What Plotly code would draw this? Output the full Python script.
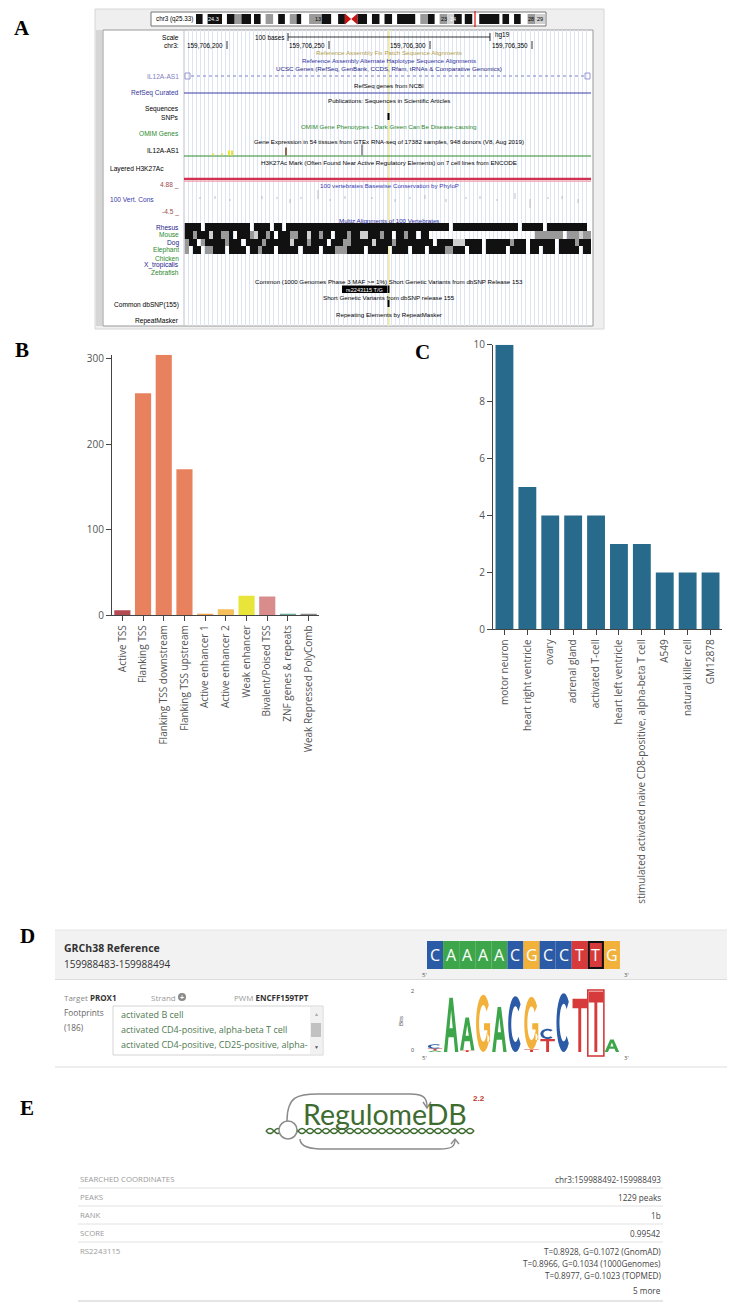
import math
import plotly.graph_objects as go

W, H = 734, 1311

SANS = "Liberation Sans, Arial, sans-serif"
OPEN = "Open Sans, sans-serif"
SERIF = "Liberation Serif, Times New Roman, serif"


def X(px):
    return px / W


def Y(py):
    return 1 - py / H


def P(px, py):
    return f"{X(px):.5f},{Y(py):.5f}"


# ---------------- panel B: chromatin state counts ----------------
chrom_states = ["Active TSS", "Flanking TSS", "Flanking TSS downstream",
                "Flanking TSS upstream", "Active enhancer 1", "Active enhancer 2",
                "Weak enhancer", "Bivalent/Poised TSS", "ZNF genes & repeats",
                "Weak Repressed PolyComb"]
state_counts = [6, 260, 305, 171, 1, 7, 23, 22, 1, 1]
state_colors = ["#b44b53", "#e8825e", "#e8825e", "#e8825e", "#f0a050",
                "#f5bf5c", "#e8e43a", "#d98c8c", "#6aa89a", "#8a8a8a"]

# ---------------- panel C: biosample counts ----------------
biosamples = ["motor neuron", "heart right ventricle", "ovary", "adrenal gland",
              "activated T-cell", "heart left ventricle",
              "stimulated activated naive CD8-positive, alpha-beta T cell",
              "A549", "natural killer cell", "GM12878"]
biosample_counts = [10, 5, 4, 4, 4, 3, 3, 2, 2, 2]

# ---------------- panel A: genome browser screenshot ----------------
multiz_species = ["Rhesus", "Mouse", "Dog", "Elephant"]
# run-length blocks: '#' black, '+' gray, ':' light gray, '.' gap
rhesus_runs = [("#", 4), (".", 1), ("#", 11), (".", 1), ("#", 4), (".", 1), ("#", 2), (".", 1),
               ("#", 40), (".", 1), ("#", 16), (".", 1), ("#", 5), (".", 1), ("#", 10), (".", 1)]
mouse_runs = [("#", 2), ("+", 1), ("#", 3), (":", 1), ("#", 2), ("+", 2), ("#", 1), (".", 1),
              ("#", 3), ("+", 1), (":", 1), ("#", 2), ("+", 1), ("#", 1), (".", 1), ("#", 3),
              ("+", 2), ("#", 2), (":", 1), ("#", 2), ("+", 1), ("#", 2), (".", 1), ("#", 3),
              ("+", 1), ("#", 2), (":", 2), ("#", 3), ("+", 1), ("#", 2), (".", 1), ("#", 2),
              ("+", 1), ("#", 2), (".", 1), ("#", 2), (".", 26), ("+", 7), (".", 1),
              ("+", 3), (":", 1), ("+", 2)]
dog_runs = [("+", 1), ("#", 2), (".", 1), ("+", 1), ("#", 5), ("+", 1), ("#", 3), (".", 1),
            ("#", 4), ("+", 1), ("#", 6), (":", 1), ("#", 3), ("+", 1), ("#", 4), (".", 1),
            ("#", 3), ("+", 2), ("#", 5), (":", 1), ("#", 4), ("+", 1), ("#", 3), ("#", 6),
            (".", 1), ("#", 4), (":", 3), ("#", 4), (".", 1), ("#", 6), ("+", 1), ("#", 3),
            (".", 1), ("#", 6), (".", 1), ("#", 4), ("+", 1), ("#", 3)]
elephant_runs = [("+", 1), (".", 1), ("#", 2), (".", 1), ("+", 2), ("#", 3), (".", 1), ("#", 4),
                 (".", 1), ("#", 2), ("+", 1), ("#", 3), (".", 1), ("#", 5), (".", 1), ("#", 4),
                 (".", 1), ("#", 3), ("+", 3), ("#", 4), (".", 1), ("#", 5), (".", 1), ("#", 4),
                 (".", 1), ("#", 3), (".", 1), ("#", 4), ("+", 2), ("#", 3), (".", 1), ("#", 3),
                 (".", 1), ("#", 5), (".", 1), ("#", 4), (".", 1), ("#", 2), (".", 1), ("#", 3),
                 (".", 1), ("#", 5), (".", 1), ("#", 4)]
multiz_runs = [rhesus_runs, mouse_runs, dog_runs, elephant_runs]
N_COLS = 100

ideogram_runs = [("k", 7), ("w", 5), ("k", 15), ("w", 5), ("k", 8), ("g", 7), ("k", 10), ("w", 3),
                 ("k", 7), ("w", 5), ("g", 8), ("w", 5), ("k", 7), ("w", 5), ("g", 7), ("k", 5),
                 ("w", 8), ("g", 13), ("k", 10), ("w", 7), ("k", 7), ("r", 13), ("k", 10),
                 ("w", 5), ("k", 8), ("w", 5), ("k", 8), ("w", 5), ("k", 19), ("w", 5), ("g", 8),
                 ("k", 7), ("w", 5), ("g", 8), ("l", 7), ("k", 8), ("w", 3), ("k", 8), ("w", 7),
                 ("k", 21), ("w", 3), ("k", 7), ("w", 5), ("k", 7), ("w", 7), ("g", 8), ("l", 10)]
band_colors = {"k": "#111111", "g": "#9a9a9a", "l": "#cfcfcf", "w": "#ffffff"}
band_labels = [("24.3", 213, "#fff"), ("13", 318, "#000"), ("23", 444, "#000"),
               ("24", 453, "#fff"), ("28", 531, "#000"), ("29", 540, "#000")]

track_labels = [("Scale", 37, "#000"), ("chr3:", 45, "#000"), ("IL12A-AS1", 76, "#8080c0"),
                ("RefSeq Curated", 93, "#35359a"), ("Sequences", 109, "#000"),
                ("SNPs", 117, "#000"), ("OMIM Genes", 133, "#2c8a2c"),
                ("IL12A-AS1", 151, "#000"), ("4.88 _", 185, "#9a4a4a"),
                ("-4.5 _", 212, "#9a4a4a"), ("Rhesus", 227, "#23238c"),
                ("Mouse", 235, "#2c8a2c"), ("Dog", 243, "#23238c"),
                ("Elephant", 250, "#2c8a2c"), ("Chicken", 258, "#2c8a2c"),
                ("X_tropicalis", 265, "#23238c"), ("Zebrafish", 272, "#2c8a2c"),
                ("Common dbSNP(155)", 305, "#000"), ("RepeatMasker", 321, "#000")]
side_labels = [("Layered H3K27Ac", 169, "#000"), ("100 Vert. Cons", 199, "#3a3aa8")]
track_titles = [
    ("Reference Assembly Fix Patch Sequence Alignments", 53, "#b3a04a"),
    ("Reference Assembly Alternate Haplotype Sequence Alignments", 61, "#3030a0"),
    ("UCSC Genes (RefSeq, GenBank, CCDS, Rfam, tRNAs &amp; Comparative Genomics)", 68, "#1c1c88"),
    ("RefSeq genes from NCBI", 85, "#000"),
    ("Publications: Sequences in Scientific Articles", 101, "#000"),
    ("OMIM Gene Phenotypes - Dark Green Can Be Disease-causing", 126, "#2c8a2c"),
    ("Gene Expression in 54 tissues from GTEx RNA-seq of 17382 samples, 948 donors (V8, Aug 2019)", 142, "#000"),
    ("H3K27Ac Mark (Often Found Near Active Regulatory Elements) on 7 cell lines from ENCODE", 162, "#000"),
    ("100 vertebrates Basewise Conservation by PhyloP", 186, "#3a3ab0"),
    ("Multiz Alignments of 100 Vertebrates", 220, "#2a2aa0"),
    ("Common (1000 Genomes Phase 3 MAF &gt;= 1%) Short Genetic Variants from dbSNP Release 153", 282, "#000"),
    ("Short Genetic Variants from dbSNP release 155", 298, "#000"),
    ("Repeating Elements by RepeatMasker", 314, "#000"),
]
coord_labels = [("159,706,200", 227), ("159,706,250", 329), ("159,706,300", 430), ("159,706,350", 532)]
gtex_bars = [(213, 2, "#e8dc50"), (222, 2, "#e8dc50"), (229, 5, "#eee030"), (232, 5, "#eee030"),
             (286, 8, "#8b6a50"), (362, 11, "#9a9a9a")]
cons_ticks = [(200, 2), (215, 3), (230, -2), (262, 3), (277, 2), (290, -4), (301, 2), (318, 9),
              (330, -2), (345, 3), (372, 2), (395, -3), (410, 2), (425, 4), (446, -3), (466, 2),
              (480, 3), (497, -2), (515, 6), (530, -9), (548, 2), (562, 3), (578, -4)]

# ---------------- panel D: motif ----------------
ref_seq = "CAAAACGCCTTG"
ref_highlight = 10
base_colors = {"A": "#3da64a", "C": "#2b5ba7", "G": "#f2b13a", "T": "#d63a3a"}
logo_stacks = [
    [("A", 0.05), ("T", 0.06), ("C", 0.14)],
    [("A", 1.75)],
    [("T", 0.06), ("A", 1.05)],
    [("G", 1.85)],
    [("A", 1.45)],
    [("C", 1.8)],
    [("T", 0.08), ("G", 1.7)],
    [("T", 0.42), ("C", 0.33)],
    [("C", 1.9)],
    [("T", 1.72)],
    [("T", 1.95)],
    [("A", 0.4)],
]
footprints = ["activated B cell", "activated CD4-positive, alpha-beta T cell",
              "activated CD4-positive, CD25-positive, alpha-"]

# ---------------- panel E: RegulomeDB summary ----------------
summary_keys = ["SEARCHED COORDINATES", "PEAKS", "RANK", "SCORE", "RS2243115"]
summary_values = [["chr3:159988492-159988493"], ["1229 peaks"], ["1b"], ["0.99542"],
                  ["T=0.8928, G=0.1072 (GnomAD)", "T=0.8966, G=0.1034 (1000Genomes)",
                   "T=0.8977, G=0.1023 (TOPMED)", "5 more"]]

shapes = []
ann = []


def rect(x0, y0, x1, y1, fill=None, line=None, width=1, layer="above"):
    return dict(type="rect", xref="paper", yref="paper", x0=X(x0), x1=X(x1), y0=Y(y1), y1=Y(y0),
                fillcolor=fill or "rgba(0,0,0,0)", layer=layer,
                line=dict(color=line or "rgba(0,0,0,0)", width=width if line else 0))


def seg(x0, y0, x1, y1, color, width=1, dash="solid", layer="above"):
    return dict(type="line", xref="paper", yref="paper", x0=X(x0), x1=X(x1), y0=Y(y0), y1=Y(y1),
                line=dict(color=color, width=width, dash=dash), layer=layer)


def path(d, fill=None, line=None, width=1, layer="above"):
    return dict(type="path", xref="paper", yref="paper", path=d, layer=layer,
                fillcolor=fill or "rgba(0,0,0,0)",
                line=dict(color=line or "rgba(0,0,0,0)", width=width if line else 0))


def txt(x, y, s, size=7, color="#000", anchor="left", family=SANS, **kw):
    ann.append(dict(x=X(x), y=Y(y), xref="paper", yref="paper", text=s, showarrow=False,
                    xanchor=anchor, yanchor="middle",
                    font=dict(size=size, color=color, family=family), **kw))


# panel letters
for letter, lx, ly in [("A", 22, 28), ("B", 22, 350), ("C", 422, 352), ("D", 27, 936), ("E", 27, 1108)]:
    txt(lx, ly, f"<b>{letter}</b>", size=21, anchor="center", family=SERIF)

# ---- panel A frame
shapes.append(rect(95, 9, 604, 329, fill="#efefef", line="#d6d6d6", layer="below"))
shapes.append(rect(103, 30, 593, 326, fill="#ffffff", line="#9a9a9a", layer="below"))
shapes.append(rect(96, 30, 102, 326, fill="#d6d6d6", layer="below"))
shapes.append(seg(184, 30, 184, 326, "#c0bccc", layer="below"))
shapes.append(seg(388.5, 30, 388.5, 326, "#f1eba8", width=2.5, layer="below"))

# ideogram
shapes.append(rect(151, 12, 546, 26, fill="#ffffff", line="#777777"))
scale = (545 - 196) / sum(w for _, w in ideogram_runs)
cur = 196.0
for kind, w in ideogram_runs:
    x1 = cur + w * scale
    if kind == "r":
        mid = (cur + x1) / 2
        shapes.append(path(f"M{P(cur, 13.5)} L{P(mid, 19)} L{P(cur, 24.5)} Z "
                           f"M{P(x1, 13.5)} L{P(mid, 19)} L{P(x1, 24.5)} Z", fill="#cc1111"))
    else:
        shapes.append(rect(cur, 14, x1, 24, fill=band_colors[kind]))
    cur = x1
for lab, bx, bc in band_labels:
    txt(bx, 19, lab, size=5.5, color=bc, anchor="center")
txt(154, 19, "chr3 (q25.33)", size=6.3)
shapes.append(seg(475, 11, 475, 27, "#e01010", width=1.2))

for lab, ly, col in track_labels:
    txt(181, ly, lab, size=6.6, color=col, anchor="right")
for lab, ly, col in side_labels:
    txt(108, ly, lab, size=6.6, color=col)
for lab, ly, col in track_titles:
    txt(389, ly, lab, size=6.2, color=col, anchor="center")

# scale bar and coordinates
txt(270, 37, "100 bases", size=6.4, anchor="center")
shapes.append(seg(288, 37, 490, 37, "#000", width=0.8))
shapes.append(seg(288, 33, 288, 41, "#000", width=0.8))
shapes.append(seg(490, 33, 490, 41, "#000", width=0.8))
txt(493, 35, "hg19", size=6.4)
for lab, tx in coord_labels:
    txt(tx - 2, 45, lab, size=6.4, anchor="right")
    shapes.append(seg(tx, 41, tx, 49, "#000", width=0.8))

# gene / feature lines
shapes.append(seg(191, 76, 584, 76, "#8080c8", width=1, dash="dot"))
shapes.append(rect(185, 73, 190, 79, line="#8080c8", width=0.8))
shapes.append(rect(585, 73, 590, 79, line="#8080c8", width=0.8))
shapes.append(seg(184, 93, 591, 93, "#3c3ca0", width=1))
shapes.append(seg(388.5, 113, 388.5, 120, "#000", width=2))
shapes.append(seg(184, 156, 591, 156, "#2c8a2c", width=1))
for gx, gh, gc in gtex_bars:
    shapes.append(seg(gx, 155.5, gx, 155.5 - gh, gc, width=2))
shapes.append(seg(184, 179, 591, 179, "#d32f4f", width=2.5))
shapes.append(seg(184, 181.5, 591, 181.5, "#f3b0bd", width=1))
cons_path = " ".join(f"M{P(cx, 199)} L{P(cx, 199 - ch)}" for cx, ch in cons_ticks)
shapes.append(path(cons_path, line="#b0b0b0", width=0.8))
shapes.append(rect(342, 285.5, 387, 293, fill="#000"))
txt(364.5, 289.5, "rs2243115 T/G", size=5.6, color="#fff", anchor="center")
shapes.append(seg(388.5, 285.5, 388.5, 293, "#000", width=2))
shapes.append(seg(388.5, 300, 388.5, 307, "#000", width=2))

# multiz rows as a heatmap
code = {"#": 3, "+": 2, ":": 1, ".": None}
mz = []
for runs in multiz_runs:
    row = []
    for ch, n in runs:
        row += [code[ch]] * n
    row = (row + [None] * N_COLS)[:N_COLS]
    mz.append(row)

# ---- panel D
shapes.append(rect(55, 930, 727, 979, fill="#f2f2f2"))
shapes.append(seg(55, 930, 727, 930, "#e4e4e4"))
shapes.append(seg(55, 979.5, 727, 979.5, "#dddddd"))
shapes.append(seg(55, 1067, 727, 1067, "#dddddd"))
txt(62, 948, "<b>GRCh38 Reference</b>", size=10.5, color="#333", family=OPEN)
txt(62, 964, "159988483-159988494", size=10, color="#333", family=OPEN)
SEQ_X0, CELL = 427.0, 16.08
for i, b in enumerate(ref_seq):
    x0 = SEQ_X0 + i * CELL
    shapes.append(rect(x0, 941, x0 + CELL, 969, fill=base_colors[b]))
    txt(x0 + CELL / 2, 955, b, size=16, color="#fff", anchor="center", family=OPEN)
hx = SEQ_X0 + ref_highlight * CELL
shapes.append(rect(hx + 1, 942, hx + CELL - 1, 968, line="#111", width=2))
for lab, lx, ly in [("5'", 424, 975), ("3'", 626, 975), ("5'", 424, 1058), ("3'", 626, 1058)]:
    txt(lx, ly, lab, size=6, color="#555", anchor="center", family=OPEN)

txt(62, 997, "Target <b><span style='color:#333'>PROX1</span></b>", size=8, color="#888", family=OPEN)
txt(149, 997, "Strand", size=8, color="#999", family=OPEN)
shapes.append(dict(type="circle", xref="paper", yref="paper", x0=X(178), x1=X(186),
                   y0=Y(1001), y1=Y(993), fillcolor="#8a8a8a", line=dict(width=0)))
txt(182, 997, "<b>+</b>", size=7, color="#fff", anchor="center")
txt(232, 997, "PWM <b><span style='color:#333'>ENCFF159TPT</span></b>", size=8, color="#999", family=OPEN)
txt(62, 1012, "Footprints", size=8.3, color="#666", family=OPEN)
txt(62, 1027, "(186)", size=8.3, color="#666", family=OPEN)
shapes.append(rect(113, 1006, 323, 1055, fill="#fff", line="#d4d4d4"))
shapes.append(rect(310, 1007, 322, 1054, fill="#f1f1f1"))
shapes.append(rect(311, 1023, 321, 1037, fill="#c1c1c1"))
txt(316, 1014, "▲", size=5, color="#aaa", anchor="center")
txt(316, 1047, "▼", size=5, color="#555", anchor="center")
for k, item in enumerate(footprints):
    txt(119, 1015 + k * 14.5, item, size=9, color="#4f7a52", family=OPEN)

# sequence logo glyphs


def arc_pts(a0, a1, rx, ry, n=20):
    return [(0.5 + rx * math.cos(math.radians(a0 + (a1 - a0) * k / n)),
             0.5 + ry * math.sin(math.radians(a0 + (a1 - a0) * k / n))) for k in range(n + 1)]


GLYPHS = {
    "A": [[(0, 0), (0.38, 1), (0.62, 1), (1, 0), (0.77, 0), (0.68, 0.27), (0.32, 0.27), (0.23, 0)],
          [(0.39, 0.44), (0.61, 0.44), (0.5, 0.77)]],
    "T": [[(0, 1), (1, 1), (1, 0.82), (0.6, 0.82), (0.6, 0), (0.4, 0), (0.4, 0.82), (0, 0.82)]],
    "C": [arc_pts(45, 315, 0.5, 0.5) + arc_pts(315, 45, 0.29, 0.32)],
    "G": [arc_pts(40, 330, 0.5, 0.5) + arc_pts(330, 40, 0.29, 0.32),
          [(0.55, 0.38), (0.78, 0.38), (0.78, 0.18), (0.97, 0.18), (0.97, 0.5), (0.55, 0.5)]],
}

LOGO_BASE, BIT_PX = 1052.0, 31.0
for i, stack in enumerate(logo_stacks):
    x0 = SEQ_X0 + i * CELL + 0.8
    w = CELL - 1.6
    base = LOGO_BASE
    for letter, bits in stack:
        h = bits * BIT_PX
        parts = []
        for poly in GLYPHS[letter]:
            pts = [P(x0 + u * w, base - v * h) for u, v in poly]
            parts.append("M" + " L".join(pts) + " Z")
        shapes.append(path(" ".join(parts), fill=base_colors[letter]))
        base -= h
shapes.append(rect(hx, 990, hx + CELL, 1056, line="#d03030", width=1.5))
txt(412, 991, "2", size=5.5, color="#555", anchor="center")
txt(412, 1050, "0", size=5.5, color="#555", anchor="center")
txt(401, 1021, "Bits", size=6, color="#555", anchor="center", textangle=-90)

# ---- panel E: logo
helix = [f"M{P(266, 1131)}", f"M{P(266, 1131)}"]
for k in range(26):
    xa = 266 + k * 8
    up = 1126 if k % 2 == 0 else 1136
    dn = 1136 if k % 2 == 0 else 1126
    helix[0] += f" Q{P(xa + 4, up)} {P(xa + 8, 1131)}"
    helix[1] += f" Q{P(xa + 4, dn)} {P(xa + 8, 1131)}"
for hp in helix:
    shapes.append(path(hp, line="#3e6b30", width=1.4))
shapes.append(path(f"M{P(287, 1121)} C{P(287, 1096)} {P(298, 1094)} {P(318, 1094)} "
                   f"L{P(410, 1094)} C{P(424, 1094)} {P(427, 1098)} {P(427, 1107)}",
                   line="#8a8a8a", width=1.4))
shapes.append(path(f"M{P(423, 1102)} L{P(427, 1108)} L{P(431, 1102)}", line="#8a8a8a", width=1.4))
shapes.append(path(f"M{P(300, 1139)} C{P(300, 1147)} {P(310, 1149)} {P(325, 1149)} "
                   f"L{P(440, 1149)} C{P(452, 1149)} {P(455, 1146)} {P(455, 1140)}",
                   line="#8a8a8a", width=1.4))
shapes.append(path(f"M{P(451, 1144)} L{P(455, 1139)} L{P(459, 1144)}", line="#8a8a8a", width=1.4))
shapes.append(dict(type="circle", xref="paper", yref="paper", x0=X(279), x1=X(297),
                   y0=Y(1139), y1=Y(1121), fillcolor="#ffffff", line=dict(color="#8a8a8a", width=1.5)))
txt(385, 1114, "RegulomeDB", size=28.5, color="#3e6b30", anchor="center", family="Lato, Open Sans, sans-serif")
txt(479, 1098, "<b>2.2</b>", size=8, color="#c0392b", anchor="center")

# summary table
row_y = [1179, 1197, 1215, 1233, 1251]
for key, vals, ry in zip(summary_keys, summary_values, row_y):
    txt(78, ry, key, size=7.8, color="#9a9a9a", family=OPEN)
    for j, v in enumerate(vals):
        vy = ry + j * 12.3 + (2.5 if j == 3 else 0)
        txt(663, vy, v, size=8.2, color="#444", anchor="right", family=OPEN)
for ly in [1188, 1206, 1224, 1242]:
    shapes.append(seg(78, ly, 663, ly, "#e2e2e2"))
shapes.append(seg(78, 1301, 663, 1301, "#dcdcdc", width=1.5))

# ---------------- traces ----------------
fig = go.Figure()
fig.add_trace(go.Bar(x=chrom_states, y=state_counts, marker=dict(color=state_colors, line=dict(width=0)),
                     xaxis="x", yaxis="y", hoverinfo="x+y"))
fig.add_trace(go.Bar(x=biosamples, y=biosample_counts, marker=dict(color="#276a8c", line=dict(width=0)),
                     xaxis="x2", yaxis="y2", hoverinfo="x+y"))
fig.add_trace(go.Scatter(x=[None], y=[None], xaxis="x3", yaxis="y3", hoverinfo="skip"))
fig.add_trace(go.Heatmap(z=mz, y=multiz_species, x=list(range(N_COLS)), xaxis="x4", yaxis="y4",
                         zmin=1, zmax=3, showscale=False, hoverinfo="skip",
                         colorscale=[[0, "#cfcfcf"], [0.5, "#999999"], [1, "#111111"]]))

tick_font = dict(family="Open Sans, sans-serif", size=10, color="#555")
axis_style = dict(showline=True, linecolor="#444", linewidth=1, ticks="outside", ticklen=5,
                  tickcolor="#444", tickfont=tick_font, showgrid=False, zeroline=False,
                  automargin=False, fixedrange=True)
hidden = dict(visible=False, fixedrange=True)

fig.update_layout(
    width=W, height=H, margin=dict(l=0, r=0, t=0, b=0),
    paper_bgcolor="#ffffff", plot_bgcolor="rgba(0,0,0,0)",
    showlegend=False, bargap=0.22,
    xaxis=dict(domain=[X(112), X(319)], anchor="y", tickangle=-90, **axis_style),
    yaxis=dict(domain=[Y(615.3), Y(354.7)], anchor="x", range=[0, 305],
               tickvals=[0, 100, 200, 300], **axis_style),
    xaxis2=dict(domain=[X(493), X(722)], anchor="y2", tickangle=-90, **axis_style),
    yaxis2=dict(domain=[Y(629.3), Y(344.7)], anchor="x2", range=[0, 10], dtick=2, **axis_style),
    xaxis3=dict(domain=[X(184.5), X(591)], anchor="y3", range=[0, 100], dtick=1, showgrid=True,
                gridcolor="#dde4f2", gridwidth=0.8, showticklabels=False, ticks="", zeroline=False,
                showline=False, fixedrange=True),
    yaxis3=dict(domain=[Y(326), Y(30)], anchor="x3", range=[0, 1], **hidden),
    xaxis4=dict(domain=[X(184.5), X(591)], anchor="y4", range=[-0.5, N_COLS - 0.5], **hidden),
    yaxis4=dict(domain=[Y(254), Y(223)], anchor="x4", autorange="reversed", type="category", **hidden),
    shapes=shapes,
    annotations=ann,
)

# the page body has a default 8px margin; drop it so the figure sits at the window corner
fig.write_html("out.html", config={"displayModeBar": False},
               post_script="document.body.style.margin='0';")
